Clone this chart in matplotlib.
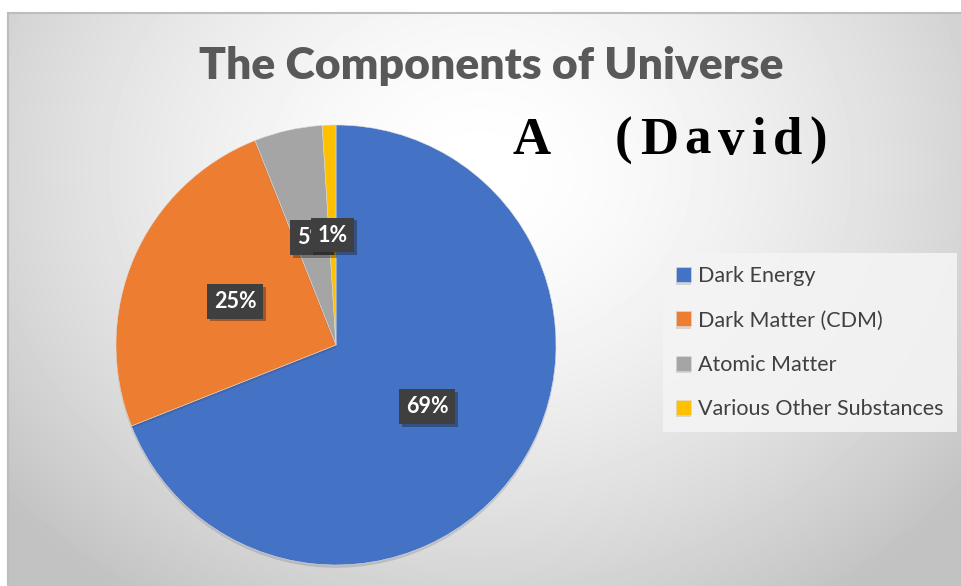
import numpy as np
import matplotlib
matplotlib.use('Agg')
import matplotlib.pyplot as plt
import matplotlib.patheffects as pe

# 資料
labels = ['Dark Energy', 'Dark Matter (CDM)', 'Atomic Matter', 'Various Other Substances']
shares = [69, 25, 5, 1]
colors = ['#4472C4', '#ED7D31', '#A5A5A5', '#FFC000']

W, H = 962, 586
fig = plt.figure(figsize=(W / 100, H / 100), dpi=100, facecolor='white')

# 背景漸層
bg = fig.add_axes([8 / W, 0, 1 - 8 / W, (H - 13) / H])
yy, xx = np.mgrid[13:H, 8:W]
d = np.sqrt(((xx - 480) / 620.0) ** 2 + ((yy - 170) / 520.0) ** 2)
shade = 1.0 - 0.24 * np.clip(d, 0, 1) ** 1.6
bg.imshow(shade, cmap='gray', vmin=0, vmax=1, aspect='auto', extent=(0, 1, 0, 1))
bg.set_xlim(0, 1)
bg.set_ylim(0, 1)
bg.axis('off')
bg.plot([0, 1], [1, 1], color='#bdbdbd', lw=1.5, transform=bg.transAxes, clip_on=False)
bg.plot([0, 0], [0, 1], color='#bdbdbd', lw=1.5, transform=bg.transAxes, clip_on=False)

# 圓餅圖
ax = fig.add_axes([116 / W, (H - 565) / H, 440 / W, 440 / H])
wedges, texts, autotexts = ax.pie(
    shares, colors=colors, startangle=90, counterclock=False,
    autopct=lambda p: f'{p:.0f}%', pctdistance=0.5,
    wedgeprops=dict(linewidth=0.4, edgecolor='#dddddd'),
    textprops=dict(color='white', fontsize=15.5, fontweight='bold', family='Lato'))
ax.set_xlim(-1, 1)
ax.set_ylim(-1, 1)
for w in wedges:
    w.set_path_effects([pe.SimplePatchShadow(offset=(0, -2), alpha=0.15), pe.Normal()])

for i, t in enumerate(autotexts):
    t.set_bbox(dict(boxstyle='square,pad=0.32', facecolor='#3f3f3f', edgecolor='none'))
    t.set_zorder(10 + i)
    t.get_bbox_patch().set_path_effects([pe.SimplePatchShadow(offset=(2, -2), alpha=0.35), pe.Normal()])

# 標題
fig.text(0.511, 1 - 66 / H, 'The Components of Universe', ha='center', va='center',
         fontsize=32, fontweight='heavy', color='#595959', family='Lato')

# A (David)：逐字排版加字距
fig.text(513 / W, 1 - 154 / H, 'A', ha='left', va='baseline', fontsize=38,
         fontweight='bold', color='black', family='Liberation Serif')
fig.canvas.draw()
renderer = fig.canvas.get_renderer()
x0 = 615
for ch in '(David)':
    t = fig.text(x0 / W, 1 - 154 / H, ch, ha='left', va='baseline', fontsize=38,
                 fontweight='bold', color='black', family='Liberation Serif')
    x0 += t.get_window_extent(renderer).width + 7

# 圖例
leg = fig.legend(wedges, labels, loc='upper left', bbox_to_anchor=(663 / W, 1 - 253 / H),
                 borderaxespad=0, frameon=True, fancybox=False, handlelength=0.7,
                 handleheight=0.7, handletextpad=0.3, labelspacing=1.12, borderpad=0.62,
                 prop=dict(family='Lato', size=15.5))
leg.get_frame().set_facecolor('#f4f4f4')
leg.get_frame().set_edgecolor('none')
leg.get_frame().set_alpha(0.9)
for t in leg.get_texts():
    t.set_color('#404040')

fig.savefig('out.png', dpi=100, facecolor='white')
